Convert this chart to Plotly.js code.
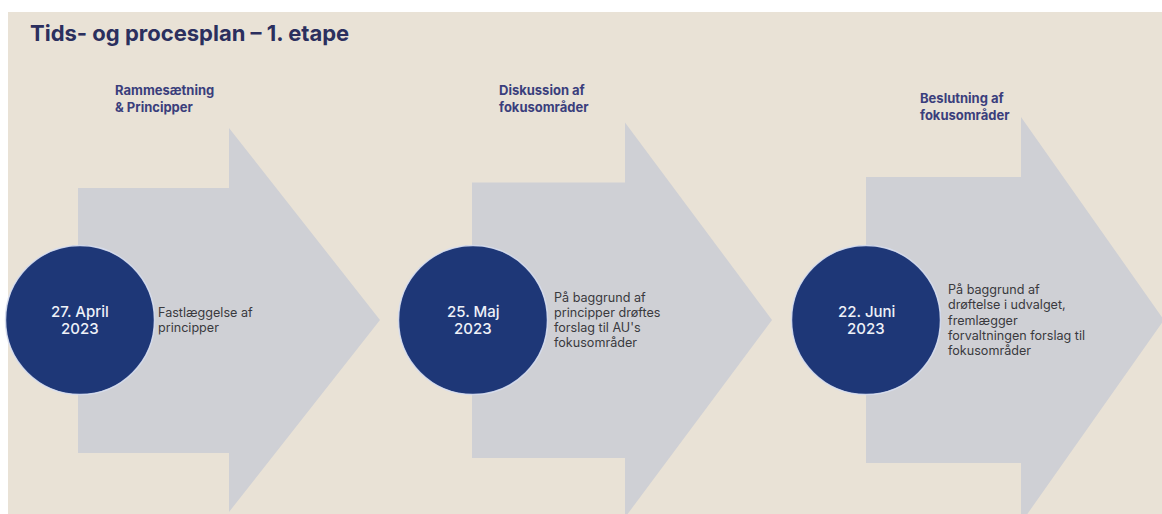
<!DOCTYPE html>
<html>
<head>
<meta charset="utf-8">
<script src="https://cdn.plot.ly/plotly-3.0.1.min.js"></script>
<style>html,body{margin:0;padding:0;background:#ffffff;}#chart{width:1162px;height:514px;}</style>
</head>
<body>
<div id="chart"></div>
<script>
// ---- data ----
const chartTitle = "Tids- og procesplan – 1. etape";
const stages = ["Rammesætning<br>& Principper", "Diskussion af<br>fokusområder", "Beslutning af<br>fokusområder"];
const dates = ["27. April<br>2023", "25. Maj<br>2023", "22. Juni<br>2023"];
const descriptions = [
  "Fastlæggelse af<br>principper",
  "På baggrund af<br>principper drøftes<br>forslag til AU's<br>fokusområder",
  "På baggrund af<br>drøftelse i udvalget,<br>fremlægger<br>forvaltningen forslag til<br>fokusområder"
];

// ---- styles / layout constants ----
const W = 1162, H = 514;
const BG = "#e9e2d6", ARROW = "#cfd0d5", NAVY = "#1e3777";
const FONT = "Inter, 'Noto Sans', sans-serif";
const STEP = 394, CY = 320;

const traces = [];
const annotations = [];

function addLines(text, x, yc, spacing, font) {
  const lines = text.split("<br>");
  const n = lines.length;
  lines.forEach((ln, k) => {
    annotations.push({
      x: x, y: yc + (k - (n - 1) / 2) * spacing, xref: "x", yref: "y",
      text: ln, showarrow: false, xanchor: "left", yanchor: "middle", align: "left",
      font: font
    });
  });
}

stages.forEach((s, i) => {
  const left = 78 + STEP * i;
  const base = 229 + 396 * i;
  const tip = 380 + 392 * i;
  const bTop = 188 - 5.5 * i, bBot = 453 + 5 * i;
  const hTop = 128 - 5.5 * i, hBot = 2 * CY - hTop;
  traces.push({
    type: "scatter", mode: "lines", fill: "toself",
    x: [left, base, base, tip, base, base, left, left],
    y: [bTop, bTop, hTop, CY, hBot, bBot, bBot, bTop],
    line: {width: 0, color: ARROW}, fillcolor: ARROW,
    hoverinfo: "skip", showlegend: false
  });
});

// circles
const circX = dates.map((d, i) => 80 + 393 * i);
traces.push({
  type: "scatter", mode: "markers",
  x: circX,
  y: dates.map(() => CY),
  marker: {size: 149, color: NAVY, line: {color: "rgba(215,222,240,0.9)", width: 1.5}},
  hoverinfo: "skip", showlegend: false
});

// dates inside circles (centered)
dates.forEach((d, i) => {
  const lines = d.split("<br>");
  lines.forEach((ln, k) => {
    annotations.push({
      x: circX[i], y: CY - 8.5 + k * 17, xref: "x", yref: "y",
      text: ln, showarrow: false, xanchor: "center", yanchor: "middle",
      font: {family: FONT, size: 15, color: "#eef1f8", weight: 500}
    });
  });
});

// stage headings
const headX = [113, 497, 918];
const headY = [98.5, 98.5, 106.5];
stages.forEach((s, i) => {
  addLines(s, headX[i], headY[i], 17, {family: FONT, size: 13, color: "#3a3e7c", weight: 700});
});

// descriptions
const descX = [156, 552, 946];
descriptions.forEach((d, i) => {
  addLines(d, descX[i], CY, 15.3, {family: FONT, size: 12.6, color: "#3a3a3e"});
});

const layout = {
  width: W, height: H,
  margin: {l: 0, r: 0, t: 0, b: 0},
  paper_bgcolor: "#ffffff", plot_bgcolor: "rgba(0,0,0,0)",
  title: {
    text: "<b>" + chartTitle + "</b>",
    x: 30 / W, xanchor: "left", xref: "paper",
    y: 1 - 33 / H, yanchor: "middle", yref: "paper",
    font: {family: FONT, size: 22, color: "#2b2f5e"}
  },
  xaxis: {range: [0, W], visible: false, fixedrange: true},
  yaxis: {range: [H, 0], visible: false, fixedrange: true},
  shapes: [{type: "rect", xref: "x", yref: "y", x0: 8, x1: W, y0: 12, y1: H,
            fillcolor: BG, line: {width: 0}, layer: "below"}],
  annotations: annotations,
  showlegend: false
};

Plotly.newPlot("chart", traces, layout, {displayModeBar: false, staticPlot: true});
</script>
</body>
</html>
